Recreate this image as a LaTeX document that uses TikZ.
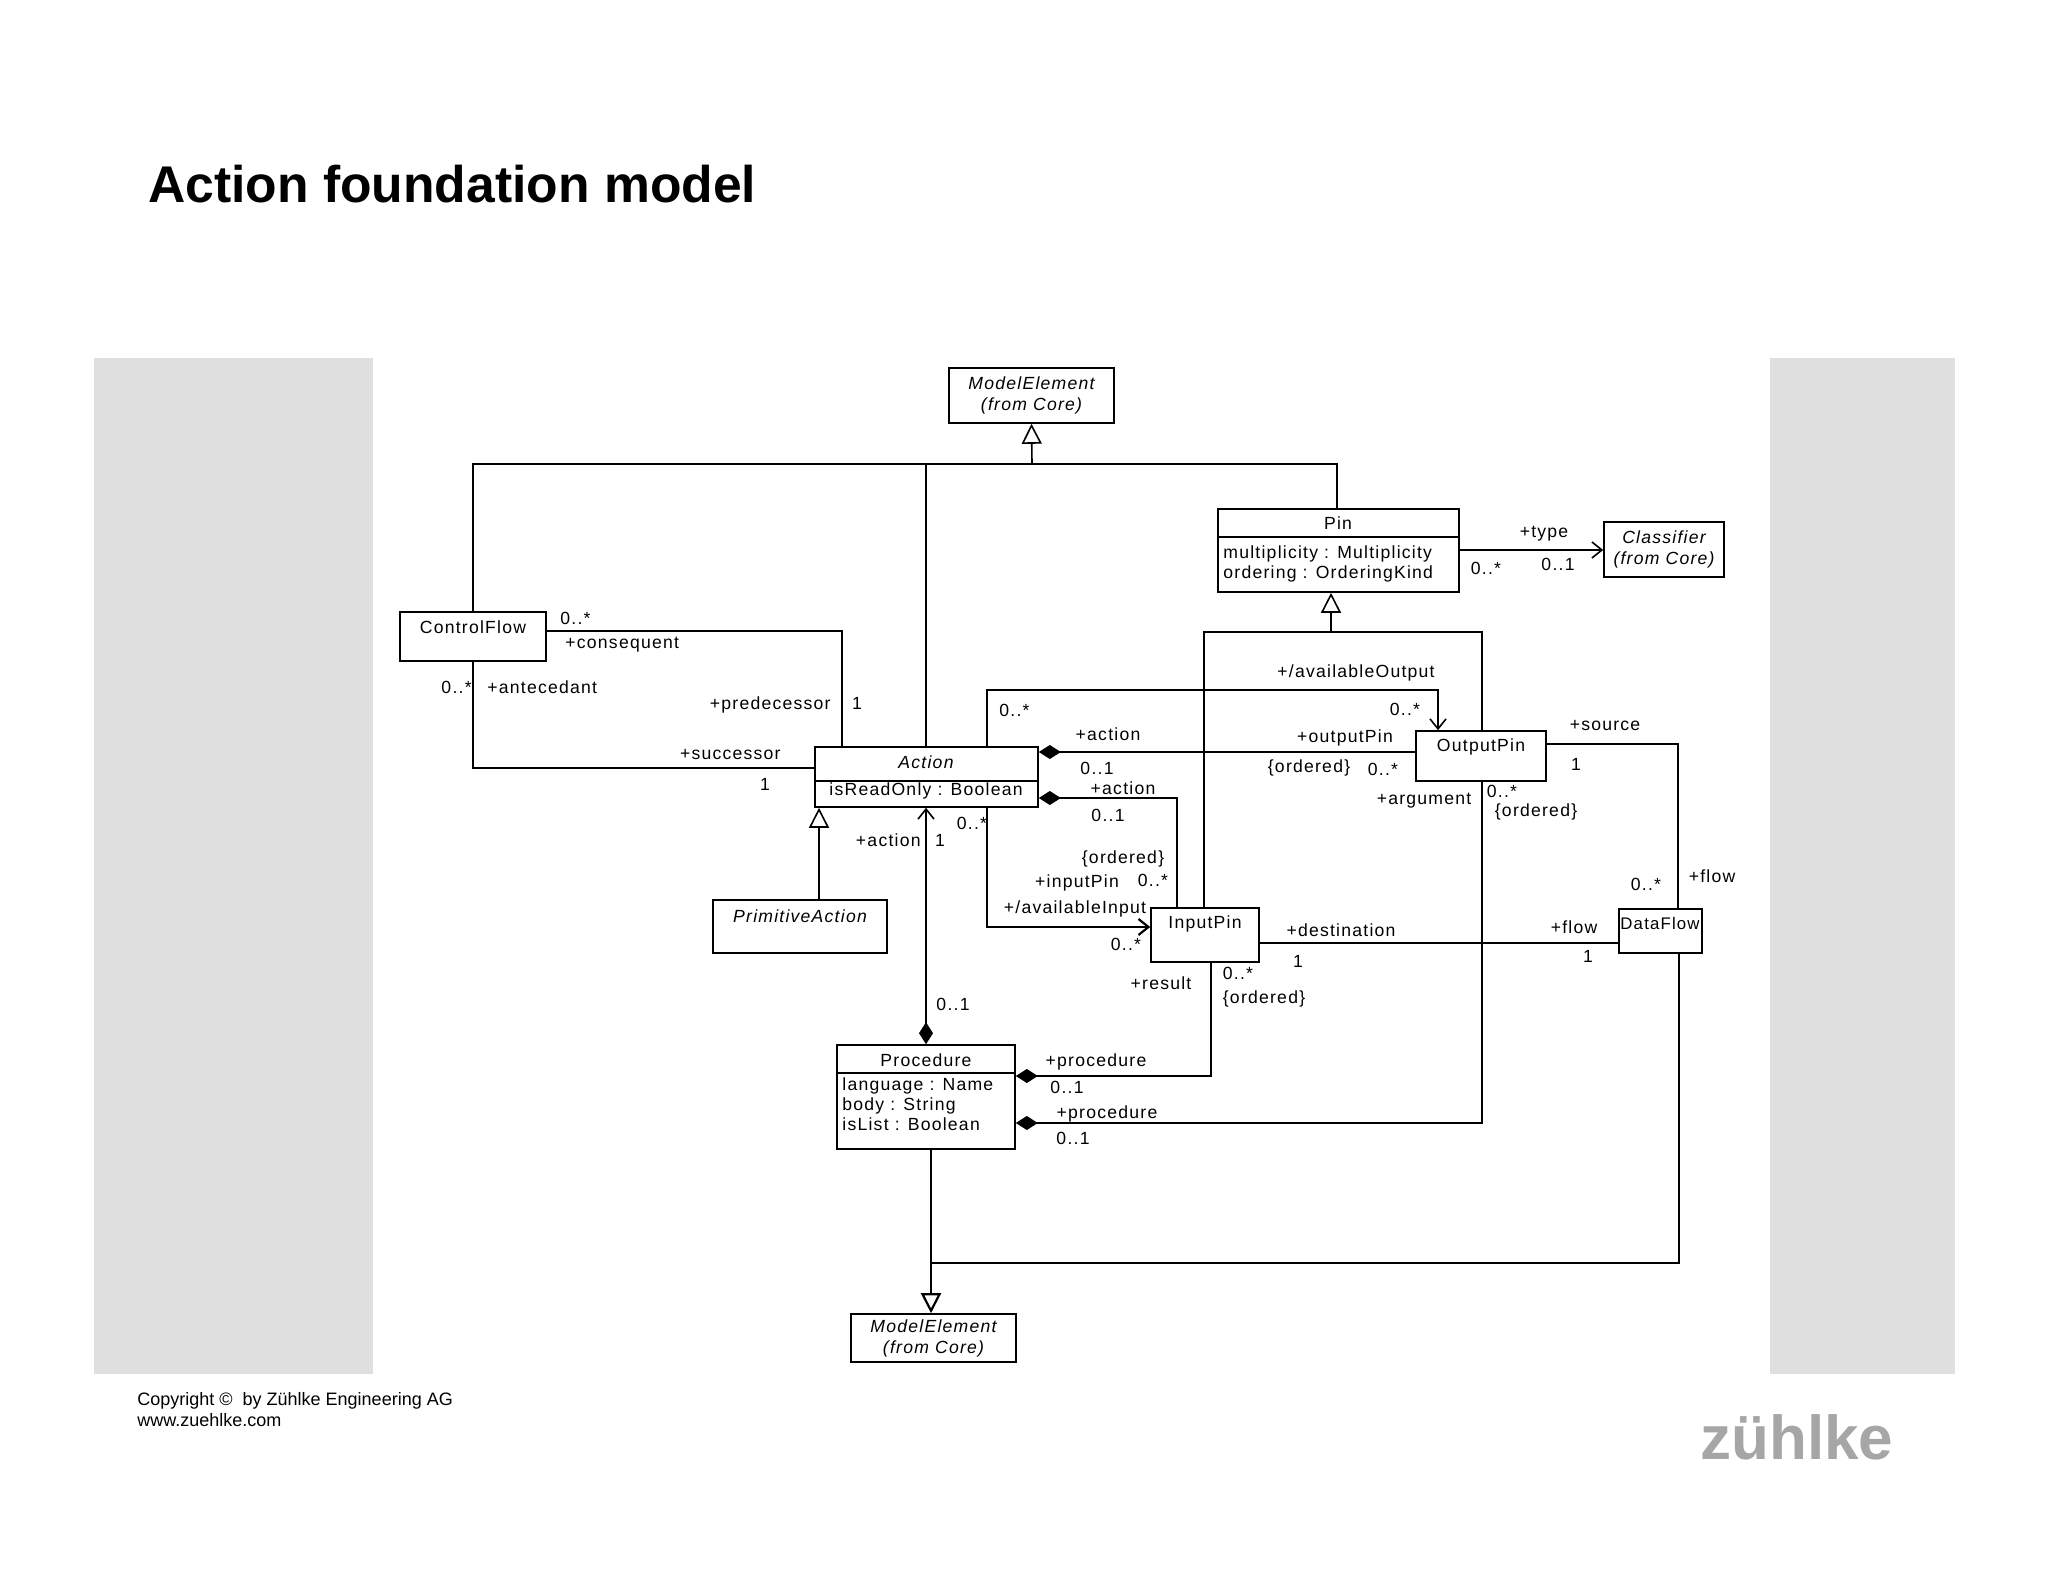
\documentclass[tikz,border=0pt]{standalone}
\usepackage{fontspec}
\setmainfont{Liberation Sans}
\newfontfamily\diag[LetterSpace=7]{Liberation Sans}
\usetikzlibrary{arrows.meta}
\begin{document}
\begin{tikzpicture}[x=0.5pt,y=-0.5pt,
 cls/.style={draw,line width=0.8pt,fill=white,inner sep=0pt},
 t/.style={font=\diag\fontsize{8.8}{10}\selectfont,inner sep=0pt},
 ti/.style={font=\diag\fontsize{8.8}{10.5}\selectfont\itshape,inner sep=0pt,align=center},
 ln/.style={line width=0.8pt},
 gen/.style={ln,-{Triangle[open,length=10pt,width=10pt]}},
 nav/.style={ln,-{Straight Barb[length=5pt,width=8pt]}},
 comp/.style={ln,{Diamond[length=11pt,width=7pt]}-}]
\useasboundingbox (0,0) rectangle (2048,1582);
\fill[gray!25] (94,358) rectangle (373,1374);
\fill[gray!25] (1770,358) rectangle (1955,1374);
\node[anchor=base west,font=\fontsize{25.8}{28}\selectfont\bfseries,inner sep=0pt] (title) at (148,203) {Action foundation model};
% classes
\node[cls,minimum width=82.5pt,minimum height=27.5pt] (me1) at (1031.5,395.5) {};
\node[ti] (me1t) at (me1) {ModelElement\\(from Core)};
\node[cls,minimum width=120.5pt,minimum height=41.5pt] (pin) at (1338.5,550.5) {};
\draw[ln] (1218,537) -- (1459,537);
\node[t] (pint) at (1338,523) {Pin};
\node[t,anchor=west,align=left] (pina) at (1223,564) {multiplicity : Multiplicity\\ordering : OrderingKind};
\node[cls,minimum width=60pt,minimum height=27.5pt] (cl) at (1664,549.5) {};
\node[ti] (clt) at (cl) {Classifier\\(from Core)};
\node[cls,minimum width=73pt,minimum height=24.5pt] (cf) at (473,636.5) {};
\node[t] (cft) at (473,627) {ControlFlow};
\node[cls,minimum width=111.5pt,minimum height=30pt] (act) at (926.5,777) {};
\draw[ln] (815,781) -- (1038,781);
\node[ti] (actt) at (926,762) {Action};
\node[t] (acta) at (926,791) {isReadOnly : Boolean};
\node[cls,minimum width=87pt,minimum height=26.5pt] (pa) at (800,926.5) {};
\node[ti] (pat) at (800,916) {PrimitiveAction};
\node[cls,minimum width=54pt,minimum height=27pt] (in) at (1205,935) {};
\node[t] (int) at (1205,924) {InputPin};
\node[cls,minimum width=65pt,minimum height=25pt] (out) at (1481,756) {};
\node[t] (outt) at (1481,747) {OutputPin};
\node[cls,minimum width=41.5pt,minimum height=22pt] (df) at (1660.5,931) {};
\node[t,font=\diag\fontsize{8.4}{10}\selectfont] (dft) at (1660,923) {DataFlow};
\node[cls,minimum width=89pt,minimum height=52pt] (pr) at (926,1097) {};
\draw[ln] (837,1073) -- (1015,1073);
\node[t] (prt) at (926,1060) {Procedure};
\node[t,anchor=north west,align=left] (pra) at (842,1077) {language : Name\\body : String\\isList : Boolean};
\node[cls,minimum width=82.5pt,minimum height=24pt] (me2) at (933.5,1338) {};
\node[ti] (me2t) at (me2) {ModelElement\\(from Core)};
% generalisation to ModelElement
\coordinate (bus) at (1032,464);
\draw[gen] (bus) -- (me1.south);
\draw[ln,line width=1.1pt] (cf.north) -- (473,464) -- (1337,464) -- (pin.north-|1337,0);
\draw[ln] (926,464) -- (act.north-|926,0);
% control flow
\draw[ln] (cf.east|-0,631) -- (842,631) -- (act.north-|842,0);
\draw[ln] (cf.south) -- (473,768) -- (act.west|-0,768);
\draw[gen] (pa.north-|819,0) -- (act.south-|819,0);
% pin
\draw[nav] (pin.east|-0,550) -- (cl.west|-0,550);
\coordinate (pj) at (1331,632);
\draw[gen] (pj) -- (pin.south-|1331,0);
\draw[ln,line width=1.1pt] (in.north-|1204,0) -- (1204,632) -- (1482,632) -- (out.north-|1482,0);
% action - pins
\draw[nav] (act.north-|987,0) -- (987,690) -- (1438,690) -- (out.north-|1438,0);
\draw[comp] (act.east|-0,752) -- (out.west|-0,752);
\draw[comp] (act.east|-0,798) -- (1177,798) -- (in.north-|1177,0);
\draw[nav,line width=1.1pt] (act.south-|987,0) -- (987,927) -- (in.west|-0,927);
\draw[ln,{Diamond[length=11pt,width=7pt]}-{Straight Barb[length=5pt,width=8pt]}] (pr.north-|926,0) -- (act.south-|926,0);
\draw[comp] (pr.east|-0,1076) -- (1211,1076) -- (in.south-|1211,0);
\draw[comp,line width=1.1pt] (pr.east|-0,1123) -- (1482,1123) -- (out.south-|1482,0);
% dataflow
\draw[ln] (in.east|-0,943) -- (df.west|-0,943);
\draw[ln] (out.east|-0,744) -- (1678,744) -- (df.north-|1678,0);
\draw[ln] (df.south-|1679,0) -- (1679,1263) -- (931,1263);
\draw[gen,line width=1.1pt] (pr.south-|931,0) -- (me2.north-|931,0);
% labels
\node[t,anchor=west] (l1) at (560,618) {0..*};
\node[t,anchor=west] (l2) at (565,645) {+consequent};
\node[t,anchor=east] (l3) at (472,687) {0..*};
\node[t,anchor=west] (l4) at (487,687) {+antecedant};
\node[t,anchor=east] (l5) at (831,705) {+predecessor};
\node[t] (l6) at (857,703) {1};
\node[t,anchor=east] (l7) at (781,755) {+successor};
\node[t] (l8) at (765,784) {1};
\node[t,anchor=east] (l9) at (921,840) {+action};
\node[t] (l10) at (940,840) {1};
\node[t] (l11) at (972,823) {0..*};
\node[t,anchor=west] (l12) at (999,710) {0..*};
\node[t] (l13) at (1108,734) {+action};
\node[t] (l14) at (1097,768) {0..1};
\node[t] (l15) at (1123,788) {+action};
\node[t] (l16) at (1108,815) {0..1};
\node[t] (l17) at (1123,859) {\{ordered\}};
\node[t] (l18) at (1077,883) {+inputPin};
\node[t] (l19) at (1153,880) {0..*};
\node[t] (l20) at (1075,909) {+/availableInput};
\node[t] (l21) at (1126,944) {0..*};
\node[t] (l22) at (1356,673) {+/availableOutput};
\node[t] (l23) at (1405,709) {0..*};
\node[t] (l24) at (1345,738) {+outputPin};
\node[t] (l25) at (1309,768) {\{ordered\}};
\node[t] (l26) at (1383,769) {0..*};
\node[t] (l27) at (1424,801) {+argument};
\node[t] (l28) at (1502,791) {0..*};
\node[t] (l29) at (1536,812) {\{ordered\}};
\node[t] (l30) at (1605,726) {+source};
\node[t] (l31) at (1576,764) {1};
\node[t] (l32) at (1646,884) {0..*};
\node[t] (l33) at (1712,876) {+flow};
\node[t] (l34) at (1341,930) {+destination};
\node[t] (l35) at (1298,961) {1};
\node[t] (l36) at (1574,927) {+flow};
\node[t] (l37) at (1588,956) {1};
\node[t] (l38) at (1161,983) {+result};
\node[t] (l39) at (1238,973) {0..*};
\node[t] (l40) at (1264,999) {\{ordered\}};
\node[t] (l41) at (953,1004) {0..1};
\node[t] (l42) at (1096,1062) {+procedure};
\node[t] (l43) at (1067,1087) {0..1};
\node[t] (l44) at (1107,1114) {+procedure};
\node[t] (l45) at (1073,1138) {0..1};
\node[t] (l46) at (1544,534) {+type};
\node[t] (l47) at (1486,568) {0..*};
\node[t] (l48) at (1558,564) {0..1};
% footer
\node[anchor=north west,align=left,font=\fontsize{9}{10.5}\selectfont,inner sep=0pt] (copy) at (137,1392) {Copyright ©\ \ by Zühlke Engineering AG\\www.zuehlke.com};
\node[anchor=west,font=\fontsize{31}{32}\selectfont\bfseries,text=gray!70,inner sep=0pt] (logo) at (1700,1437) {zühlke};
\end{tikzpicture}
\end{document}
